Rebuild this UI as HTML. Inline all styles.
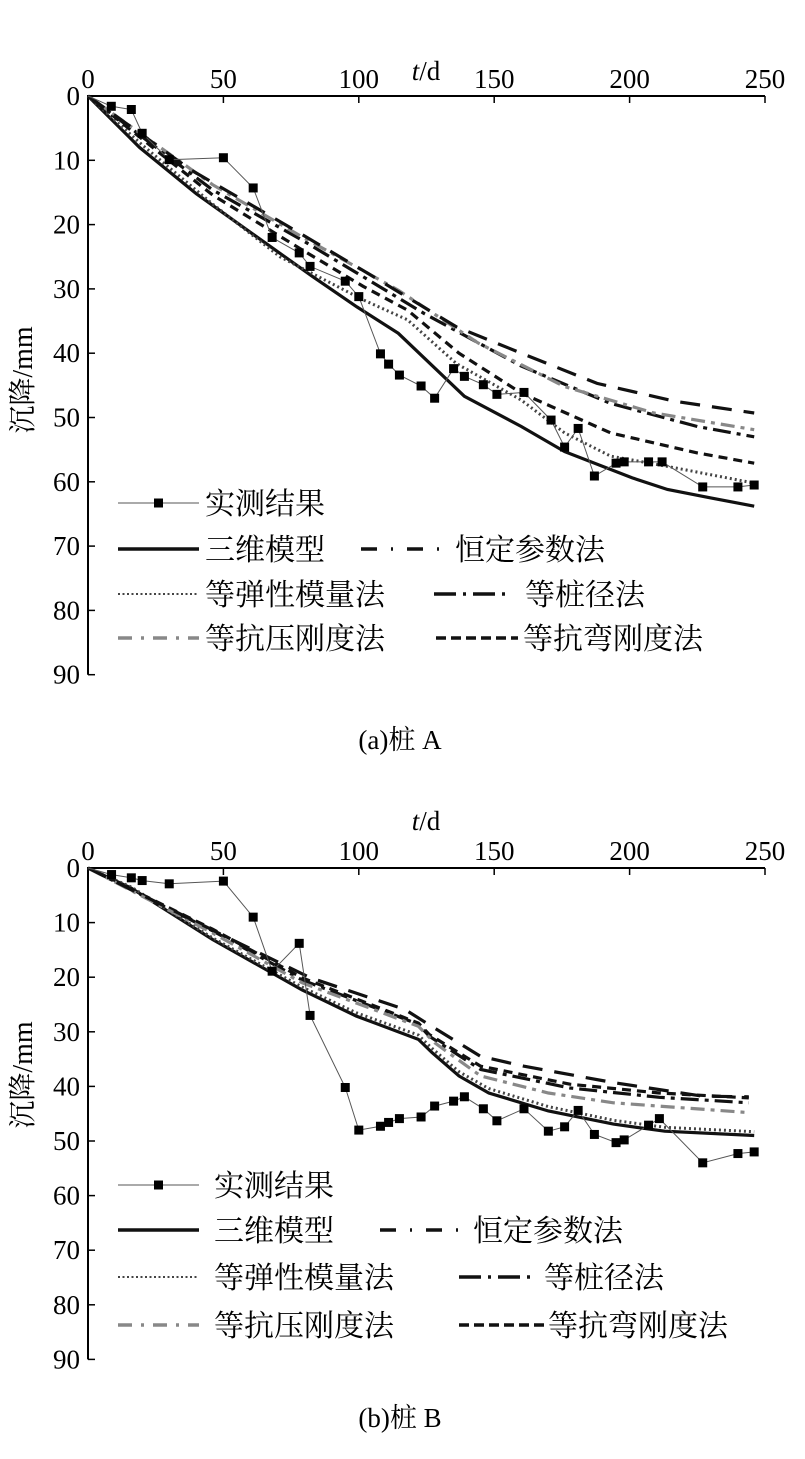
<!DOCTYPE html>
<html><head><meta charset="utf-8"><style>
html,body{margin:0;padding:0;background:#fff;}
svg{display:block;}
text{font-family:"Liberation Serif","Noto Serif CJK SC",serif;fill:#000;}
</style></head><body>
<svg id="c" width="805" height="1459" viewBox="0 0 805 1459" xmlns="http://www.w3.org/2000/svg"></svg>
<script>
const xTicks=[0,50,100,150,200,250];
const yTicks=[0,10,20,30,40,50,60,70,80,90];
// Pile A
const aMeasX=[0,8.6,16,20,30,50,61,68,78,82,95,100,108,111,115,123,128,135,139,146,151,161,171,176,181,187,195,198,207,212,227,240,246];
const aMeasY=[0,1.6,2.1,5.8,9.9,9.6,14.3,22,24.4,26.5,28.8,31.2,40.1,41.7,43.4,45.1,47,42.4,43.6,44.9,46.4,46.1,50.4,54.6,51.7,59.1,57.1,56.9,56.9,56.9,60.8,60.8,60.5];
const aSolidX=[0,19,40,58.6,83,99.3,114.6,139,160,176,201,214,230,246];
const aSolidY=[0,8,15.2,20.8,28.1,32.8,36.9,46.7,51.4,55.3,59.4,61.2,62.5,63.8];
const aDotX=[0,20,46,70.9,101.6,118,136,160,176,193,214,246];
const aDotY=[0,7.6,16.8,25,31.7,34.8,41.6,47.3,52.4,56,57.6,60.2];
const aShortX=[0,46,79,101.6,118,137,160,193,225,246];
const aShortY=[0,15.4,23.9,29.6,33.3,40,46.2,52.4,55.5,57.1];
const aDiaX=[0,46,79,101.6,124,160,193,225,246];
const aDiaY=[0,14.6,22.4,28.1,33.8,42,47.8,51.4,53];
const aCompX=[0,46,79,114.6,144,176,209,246];
const aCompY=[0,13.8,21.9,30.2,38.4,45.2,49.3,51.9];
const aConstX=[0,38,74,103,136,160,188,217,246];
const aConstY=[0,11.5,20.3,27.5,35.9,40,44.7,47.5,49.3];
// Pile B
const bMeasX=[0,8.7,16,20,30,50,61,68,78,82,95,100,108,111,115,123,128,135,139,146,151,161,170,176,181,187,195,198,207,211,227,240,246];
const bMeasY=[0,1.2,1.8,2.3,2.9,2.4,9,18.9,13.8,27,40.2,48,47.3,46.6,45.9,45.6,43.6,42.7,41.9,44.1,46.3,44.1,48.2,47.4,44.4,48.8,50.3,49.8,47.1,45.9,54,52.3,52];
const bSolidX=[0,16,46,79,99,122,127,137,148,170,194,213,246];
const bSolidY=[0,3.7,13.1,22.3,27.1,31.4,33.8,38.1,41.2,44.5,46.9,48.2,49];
const bDotX=[0,16,46,79,99,122,127,137,148,170,194,213,246];
const bDotY=[0,3.5,12.8,21.8,26.5,30.6,33,37.3,40.4,43.7,46.2,47.5,48.3];
const bShortX=[0,46,79,122,126,145,178,211,244];
const bShortY=[0,11.2,20.1,28.4,30.5,36.3,39.6,41.2,42.1];
const bDiaX=[0,46,79,122,126,145,178,211,244];
const bDiaY=[0,11.5,20.5,28.6,30.8,36.9,40.3,42,43];
const bCompX=[0,46,79,122,128,145,170,194,244];
const bCompY=[0,11.9,21,29,32,38.1,41.2,43,44.8];
const bConstX=[0,51,82,117,125,145,161,194,227,244];
const bConstY=[0,12.6,20.1,25.9,28.4,34.5,36.3,39.3,41.8,41.9];

const NS="http://www.w3.org/2000/svg";
const svg=document.getElementById('c');
function el(tag,attrs,parent){const e=document.createElementNS(NS,tag);for(const k in attrs)e.setAttribute(k,attrs[k]);(parent||svg).appendChild(e);return e;}

const styles={
 solid:{stroke:'#111','stroke-width':3.2},
 dot:{stroke:'#444','stroke-width':3,'stroke-dasharray':'2 3'},
 short:{stroke:'#111','stroke-width':3.2,'stroke-dasharray':'9 6'},
 dia:{stroke:'#111','stroke-width':3.2,'stroke-dasharray':'18 6 4 6'},
 comp:{stroke:'#888','stroke-width':3.2,'stroke-dasharray':'14 6 4 6'},
 cons:{stroke:'#111','stroke-width':3.2,'stroke-dasharray':'20 12'}
};
const legStyles={
 dot:{stroke:'#444','stroke-width':2,'stroke-dasharray':'2 2.5'},
 cons:{stroke:'#111','stroke-width':3.5,'stroke-dasharray':'16 14 2 14'},
 dia:{stroke:'#111','stroke-width':3.5,'stroke-dasharray':'22 7 3 7'},
 comp:{stroke:'#888','stroke-width':3.5,'stroke-dasharray':'14 9 3 9'},
 short:{stroke:'#111','stroke-width':3.5,'stroke-dasharray':'10 5'},
 solid:{stroke:'#111','stroke-width':3.5}
};

function chart(id,top,yScale,series,meas,L,caption,capY,tY,ylabY){
 const x0=88,x1=765,xs=(x1-x0)/250;
 const X=v=>x0+v*xs, Y=v=>top+v*yScale;
 const g=el('g',{});
 
 
 const ax=el('path',{d:`M${x0},${Y(90)}V${top}H${x1}`,fill:'none',stroke:'#000','stroke-width':2},g);
 
 
 xTicks.forEach(t=>{
  el('line',{x1:X(t),y1:top,x2:X(t),y2:top+7,stroke:'#000','stroke-width':1.5},g);
  const tx=el('text',{x:X(t),y:top-8,'font-size':27,'text-anchor':'middle'},g);tx.textContent=t;
  
  
 });
 yTicks.forEach(t=>{
  el('line',{x1:x0,y1:Y(t),x2:x0+7,y2:Y(t),stroke:'#000','stroke-width':1.5},g);
  const tx=el('text',{x:x0-8,y:Y(t)+9,'font-size':27,'text-anchor':'end'},g);tx.textContent=t;
  
  
 });
 const tt=el('text',{x:426,y:tY,'font-size':27,'text-anchor':'middle'},g);
 tt.innerHTML='<tspan font-style="italic">t</tspan>/d';
 
 
 const yl=el('text',{x:0,y:0,'font-size':28,'text-anchor':'middle',transform:`translate(32,${ylabY}) rotate(-90)`},g);
 yl.textContent='沉降/mm';
 
 
 series.forEach(s=>{
  const d=s.x.map((v,i)=>(i?'L':'M')+X(v).toFixed(1)+','+Y(s.y[i]).toFixed(1)).join('');
  const p=el('path',Object.assign({d:d,fill:'none'},styles[s.st]),g);
  
  
 });
 const md=meas.x.map((v,i)=>(i?'L':'M')+X(v).toFixed(1)+','+Y(meas.y[i]).toFixed(1)).join('');
 const ml=el('path',{d:md,fill:'none',stroke:'#555','stroke-width':1},g);
 
 
 meas.x.forEach((v,i)=>{if(i===0)return;
  const r=el('rect',{x:X(v)-4.5,y:Y(meas.y[i])-4.5,width:9,height:9,fill:'#000'},g);
  
  
 });
 const lg=el('g',{},g);
 
 
 const r=L.rows;
 const ln=(xa,xb,y,st)=>el('line',Object.assign({x1:xa,y1:y,x2:xb,y2:y},legStyles[st]),lg);
 el('line',{x1:118,y1:r[0],x2:199,y2:r[0],stroke:'#555','stroke-width':1},lg);
 el('rect',{x:154,y:r[0]-4.5,width:9,height:9,fill:'#000'},lg);
 ln(118,199,r[1],'solid');ln(L.consLine[0],L.consLine[1],r[1],'cons');
 ln(118,199,r[2],'dot');ln(L.diaLine[0],L.diaLine[1],r[2],'dia');
 ln(118,199,r[3],'comp');ln(L.shortLine[0],L.shortLine[1],r[3],'short');
 const labels=[['实测结果',L.left,r[0]],['三维模型',L.left,r[1]],['恒定参数法',L.consText,r[1]],['等弹性模量法',L.left,r[2]],['等桩径法',L.diaText,r[2]],['等抗压刚度法',L.left,r[3]],['等抗弯刚度法',L.shortText,r[3]]];
 labels.forEach(l=>{const t=el('text',{x:l[1],y:l[2]+11,'font-size':30},lg);t.textContent=l[0];
  
  });
 const cp=el('text',{x:400,y:capY,'font-size':27,'text-anchor':'middle'},g);cp.textContent=caption;
 
 
}
chart('chart-pile-a',96,6.43,[
 {name:'three-d',st:'solid',x:aSolidX,y:aSolidY},
 {name:'equal-modulus',st:'dot',x:aDotX,y:aDotY},
 {name:'equal-bending',st:'short',x:aShortX,y:aShortY},
 {name:'equal-diameter',st:'dia',x:aDiaX,y:aDiaY},
 {name:'equal-compression',st:'comp',x:aCompX,y:aCompY},
 {name:'constant-param',st:'cons',x:aConstX,y:aConstY}
],{x:aMeasX,y:aMeasY},
{rows:[503,549,594,638],left:205,consLine:[361,450],consText:455,diaLine:[434,507],diaText:525,shortLine:[436,518],shortText:523},
'(a)桩 A',749,80,380);
chart('chart-pile-b',868,5.46,[
 {name:'three-d',st:'solid',x:bSolidX,y:bSolidY},
 {name:'equal-modulus',st:'dot',x:bDotX,y:bDotY},
 {name:'equal-bending',st:'short',x:bShortX,y:bShortY},
 {name:'equal-diameter',st:'dia',x:bDiaX,y:bDiaY},
 {name:'equal-compression',st:'comp',x:bCompX,y:bCompY},
 {name:'constant-param',st:'cons',x:bConstX,y:bConstY}
],{x:bMeasX,y:bMeasY},
{rows:[1185,1230,1277,1325],left:214,consLine:[380,468],consText:473,diaLine:[459,536],diaText:544,shortLine:[459,546],shortText:548},
'(b)桩 B',1427,830,1075);
</script>
</body></html>
